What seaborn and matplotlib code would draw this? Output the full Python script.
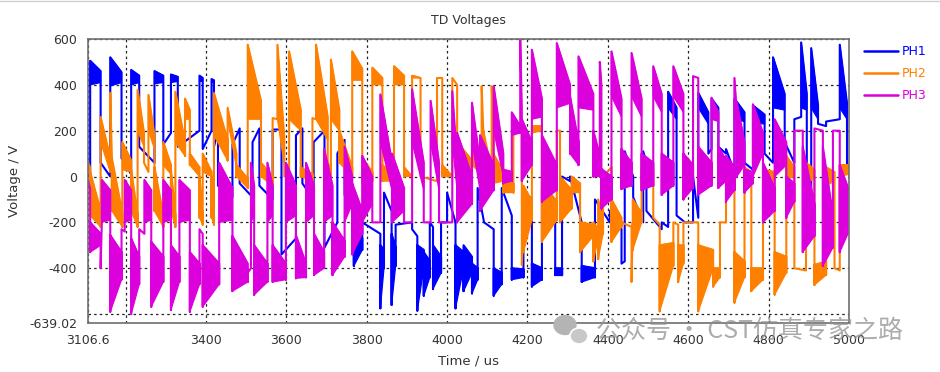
import pandas as pd
import matplotlib
matplotlib.use("Agg")
import matplotlib.pyplot as plt
from matplotlib.collections import PolyCollection
from matplotlib.patches import Ellipse
from matplotlib.lines import Line2D
import seaborn as sns

# each phase is a run of segments:
# start time, band top / bottom at the start, band top / bottom at the end (segment ends at next start)
t_end = 5000.0

ph1_t = [3106.6, 3112, 3138, 3162, 3190, 3214, 3234, 3272, 3294, 3313, 3330, 3384, 3392, 3414, 3420,
         3430, 3466, 3484, 3516, 3533, 3566, 3588, 3624, 3640, 3668, 3695, 3727,
         3745, 3768, 3789, 3834, 3843, 3862, 3872, 3913, 3926, 3942, 3957, 3965, 3985, 4000, 4021, 4041,
         4062, 4076, 4092, 4116, 4136, 4161, 4190, 4211, 4236, 4269, 4286, 4306, 4335,
         4368, 4405, 4434, 4442, 4463, 4488, 4496, 4534, 4550, 4571, 4592, 4612, 4625, 4650, 4658, 4675,
         4694, 4715, 4740, 4761, 4790, 4811, 4840, 4864, 4881, 4895, 4906, 4923, 4943, 4977, 4995]
ph1_hi0 = [10, 505, 60, 520, 80, 465, 130, 460, 140, 445, 130, 440, 120, 425, 130,
           -40, 140, -30, 150, -40, 205, -340, 180, -30, 150, -310, 100,
           -80, -230, -200, -300, -70, -250, -210, -230, -300, -330, -200, -300, -200, -70, -300, -300,
           -380, -50, -200, -400, -50, -400, -60, -380, -50, -400, 0, 0, -390,
           -100, -150, -380, 110, -90, 110, -150, -200, 370, -170, -200, 0, 365, 100, 340, 130,
           120, 340, 60, 310, 100, 520, 150, 250, 585, -180, 560, 230, 240, 575, 30]
ph1_lo0 = [10, 400, 60, 395, 80, 400, 130, 405, 140, 410, 130, 415, 120, 410, 130,
           -40, 140, -30, 150, -40, 205, -340, 180, -30, 150, -310, 100,
           -80, -390, -200, -575, -70, -560, -210, -230, -585, -520, -200, -490, -200, -70, -575, -500,
           -510, -50, -200, -520, -50, -450, -60, -480, -50, -430, 0, 0, -460,
           -100, -150, -380, 110, -90, 110, -150, -200, 300, -170, -200, 0, 300, 100, 280, 130,
           120, 250, 60, 230, 100, 300, 150, 250, 300, -180, 300, 230, 240, 300, 30]
ph1_hi1 = [0, 460, 0, 455, 10, 440, 60, 440, 190, 435, 200, 430, 200, 420, 200,
           -90, 210, -90, 210, -100, 205, -270, 210, -100, 200, -200, 160,
           -140, -270, -250, -320, -150, -310, -200, -260, -320, -370, -220, -350, -200, -200, -330, -350,
           -400, -200, -230, -420, -170, -405, -100, -400, -170, -400, -20, -200, -400,
           -200, -230, -370, 0, -200, 60, -230, -220, 300, -200, -200, -180, 280, 120, 300, 100,
           20, 280, 30, 270, 60, 360, 60, 260, 360, -180, 310, 220, 250, 320, 30]
ph1_lo1 = [0, 410, 0, 410, 10, 410, 60, 410, 190, 415, 200, 415, 200, 410, 200,
           -90, 210, -90, 210, -100, 205, -270, 210, -100, 200, -200, 160,
           -140, -320, -250, -400, -150, -390, -200, -260, -400, -440, -220, -420, -200, -200, -400, -420,
           -450, -200, -230, -470, -170, -440, -100, -450, -170, -430, -20, -200, -440,
           -200, -230, -370, 0, -200, 60, -230, -220, 250, -200, -200, -180, 230, 120, 260, 100,
           20, 240, 30, 230, 60, 290, 60, 260, 290, -180, 250, 220, 250, 250, 30]

ph2_t = [3106.6, 3112, 3138, 3162, 3166, 3192, 3214, 3230, 3246, 3257, 3272, 3294, 3313, 3324, 3348, 3360,
         3384, 3392, 3414, 3420, 3454, 3476, 3504, 3537, 3566, 3578, 3595, 3607, 3636, 3665, 3674, 3703,
         3711, 3732, 3764, 3789, 3814, 3839, 3868, 3893, 3913, 3934, 3975, 3988, 4013, 4025,
         4062, 4086, 4090, 4111, 4115, 4140, 4165, 4186, 4190, 4211, 4236, 4273, 4281, 4310, 4331, 4364,
         4376, 4388, 4409, 4434, 4459, 4462, 4484, 4513, 4529, 4563, 4575, 4588, 4625, 4662, 4679,
         4694, 4715, 4740, 4757, 4786, 4815, 4844, 4864, 4893, 4914, 4943, 4964, 4977]
ph2_hi0 = [60, 20, 260, 365, 80, 150, 30, 378, 60, 356, 40, 150, 30, 370, 340, 100,
           0, 100, 0, 364, 300, 50, 575, 60, 255, 575, 0, 546, 40, 255, 575, 60,
           510, 200, 546, 80, 475, 50, 481, 40, 440, 0, 430, 50, 430, 150,
           150, 394, 200, 394, 100, 0, 220, -386, -40, 220, -25, 200, 0, 0, -200, -200,
           -100, 0, -100, -200, -460, -100, 30, -180, -300, -200, -300, -200, -300, -400, -200,
           60, -330, 40, -400, 30, -330, 90, -400, 60, -386, 40, -400, 50]
ph2_lo0 = [30, -170, 150, 365, -150, 30, -150, 200, 60, 200, -150, 50, -150, 150, 250, 50,
           -180, 20, -180, 180, 250, 0, 250, 0, 255, 250, 0, 250, 0, 255, 250, 0,
           250, 60, 420, -30, 400, -20, 400, 0, 430, 0, 430, 0, 430, 50,
           50, 394, 0, 394, -30, -70, 180, -386, -330, 190, -285, 200, -200, -70, -330, -370,
           -360, 0, -285, -200, -460, -320, -60, -180, -588, -200, -460, -200, -588, -480, -200,
           0, -550, 40, -500, -20, -515, -10, -400, -30, -473, -40, -400, 0]
ph2_hi1 = [40, -150, 80, 80, -160, 70, -170, 190, 20, 180, -170, 50, -170, 150, 290, 40,
           -180, 20, -180, 160, 100, -10, 330, 0, 250, 170, 30, 290, 10, 250, 260, 30,
           290, 40, 470, 20, 430, 10, 440, 0, 430, -20, 430, 0, 400, 70,
           50, 200, 20, 200, 20, -30, 220, -200, -110, 220, -110, 200, -60, -30, -210, -230,
           -200, 40, -180, -220, -200, -160, 20, -210, -290, -210, -300, -200, -320, -400, -200,
           20, -370, 20, -400, 20, -350, 40, -410, 30, -370, 20, -410, 50]
ph2_lo1 = [10, -220, 20, 80, -220, 20, -220, 130, 20, 120, -220, 10, -220, 90, 250, 0,
           -210, 0, -210, 70, 40, -50, 250, -40, 250, 50, 30, 200, -20, 250, 160, 0,
           200, 0, 420, -20, 400, -20, 400, 0, 430, -20, 430, 0, 400, 30,
           10, 200, -10, 200, -20, -70, 200, -200, -190, 200, -190, 200, -140, -70, -260, -270,
           -250, 40, -220, -220, -200, -200, -20, -210, -390, -210, -380, -200, -400, -440, -200,
           -20, -440, 20, -450, -20, -420, 0, -410, -10, -430, -20, -410, 10]

ph3_t = [3106.6, 3112, 3138, 3141, 3162, 3190, 3198, 3214, 3234, 3247, 3264, 3294, 3313, 3334, 3360,
         3384, 3392, 3433, 3466, 3504, 3512, 3520, 3553, 3566, 3599, 3624, 3649, 3669, 3694, 3715,
         3745, 3764, 3789, 3814, 3834, 3863, 3893, 3913, 3942, 3959, 3980, 4013, 4025,
         4062, 4082, 4116, 4140, 4161, 4182, 4186, 4211, 4236, 4273, 4306, 4327, 4364,
         4380, 4384, 4409, 4434, 4459, 4484, 4513, 4534, 4563, 4588, 4612, 4625, 4658, 4675,
         4694, 4715, 4721, 4740, 4761, 4786, 4815, 4844, 4864, 4885, 4914, 4935, 4960, 4977]
ph3_hi0 = [-15, -200, -400, -15, -256, -230, -15, -270, -230, -15, -285, -15, -300, -15, -330,
           -230, -300, 60, -260, -420, 60, -300, 60, -300, 60, -256, 60, -250, 120, -200,
           130, -30, 90, -200, 358, 100, -200, 380, -200, 330, -200, 372, 190,
           322, 180, 394, 30, 280, 597, 250, 553, 180, 582, 350, 524, 200,
           500, 33, 546, 120, 539, 100, 481, 100, 481, 100, 438, 130, 344, 130,
           90, 430, 322, 30, 315, 60, 250, 0, 200, 130, 210, 130, 200, 50]
ph3_lo0 = [-15, -330, -400, -200, -590, -230, -200, -600, -230, -200, -568, -200, -582, -200, -590,
           -230, -568, -200, -500, -420, -200, -516, -200, -460, -200, -444, -200, -430, -200, -430,
           -200, -340, -200, -200, 150, -200, -200, 150, -200, 150, -200, 150, -200,
           150, -150, 200, -30, 180, 597, -20, 250, -110, 300, 100, 300, 0,
           400, -140, 350, -55, 350, -60, 350, -80, 350, -100, 438, -80, 250, -50,
           -110, 300, 0, -70, 0, -200, 0, -180, 200, -330, 210, -390, 200, -330]
ph3_hi1 = [-55, -250, -200, -60, -330, -240, -60, -350, -250, -60, -350, -60, -350, -60, -380,
           -250, -380, -50, -380, -400, -40, -380, -40, -380, -40, -380, -40, -330, -40, -280,
           0, -150, 0, -200, 60, -50, -200, 60, -200, 60, -200, 60, 0,
           60, 50, 100, 20, 220, 300, 150, 340, 50, 400, 150, 360, 90,
           400, 0, 340, 60, 340, 60, 360, 60, 360, 50, 430, 60, 280, 70,
           40, 270, 150, 20, 190, -50, 150, -30, 200, -120, 200, -170, 200, -60]
ph3_lo1 = [-55, -300, -200, -190, -450, -240, -190, -470, -250, -190, -460, -190, -460, -190, -470,
           -250, -470, -190, -460, -400, -170, -460, -170, -450, -170, -440, -170, -400, -170, -350,
           -120, -250, -120, -200, -60, -150, -200, -60, -200, -60, -200, -60, -120,
           -60, -60, 0, -20, 190, 300, 50, 260, -60, 320, 50, 290, 0,
           400, -100, 260, -40, 260, -40, 280, -40, 280, -50, 430, -40, 240, -20,
           -60, 230, 50, -30, 100, -150, 50, -110, 200, -260, 200, -310, 200, -240]

phase_names = ["PH1", "PH2", "PH3"]
phase_data = [(ph1_t, ph1_hi0, ph1_lo0, ph1_hi1, ph1_lo1),
              (ph2_t, ph2_hi0, ph2_lo0, ph2_hi1, ph2_lo1),
              (ph3_t, ph3_hi0, ph3_lo0, ph3_hi1, ph3_lo1)]
colors = {"PH1": "#0000ff", "PH2": "#ff8000", "PH3": "#dc00dc"}

x_ticks = [3106.6, 3200, 3400, 3600, 3800, 4000, 4200, 4400, 4600, 4800, 5000]
x_labels = ["3106.6", "", "3400", "3600", "3800", "4000", "4200", "4400", "4600", "4800", "5000"]
y_ticks = [-639.02, -600, -400, -200, 0, 200, 400, 600]
y_labels = ["-639.02", "", "-400", "-200", "0", "200", "400", "600"]

# trace outline and ringing bands for each phase
rows = []
bands = {}
for name, (ts, h0, l0, h1, l1) in zip(phase_names, phase_data):
    ends = list(ts[1:]) + [t_end]
    polys = []
    for t0, t1, a0, b0, a1, b1 in zip(ts, ends, h0, l0, h1, l1):
        rows += [(name, t0, b0), (name, t0, a0), (name, t1, a1), (name, t1, b1)]
        if a0 != b0 or a1 != b1:
            polys.append([(t0, a0), (t1, a1), (t1, b1), (t0, b0)])
    bands[name] = polys
df = pd.DataFrame(rows, columns=["phase", "t", "v"])

sns.set_style("white")
plt.rcParams["font.family"] = ["DejaVu Sans"]

fig = plt.figure(figsize=(9.4, 3.72), dpi=100)
ax = fig.add_axes([88 / 940, 49 / 372, 761 / 940, 284 / 372])

sns.lineplot(data=df, x="t", y="v", hue="phase", palette=colors, sort=False,
             estimator=None, lw=1.5, ax=ax, legend=False)
for line in ax.lines:
    for i, name in enumerate(phase_names):
        if matplotlib.colors.to_hex(line.get_color()) == colors[name]:
            line.set_zorder(3 + i)
for i, name in enumerate(phase_names):
    pc = PolyCollection(bands[name], facecolors=colors[name], edgecolors=colors[name],
                        linewidths=0.9, zorder=3 + i)
    ax.add_collection(pc)

ax.set_xlim(3106.6, 5000)
ax.set_ylim(-639.02, 600)
ax.set_xticks(x_ticks)
ax.set_xticklabels(x_labels)
ax.set_yticks(y_ticks)
ax.set_yticklabels(y_labels)
ax.grid(True, color="#222222", linestyle=(0, (2, 2.5)), linewidth=0.9)
for gl in ax.get_xgridlines() + ax.get_ygridlines():
    gl.set_zorder(10)
for sp in ax.spines.values():
    sp.set_color("#707070")
    sp.set_linewidth(1.2)
    sp.set_zorder(11)
ax.tick_params(direction="out", length=4, width=1, color="#707070", labelsize=9,
               labelcolor="#333333", pad=4)

ax.set_title("TD Voltages", fontsize=9, color="#333333", pad=11)
ax.set_xlabel("Time / us", fontsize=9.5, color="#333333", labelpad=5)
ax.set_ylabel("Voltage / V", fontsize=9.5, color="#333333", labelpad=6)

handles = [Line2D([], [], color=colors[n], lw=1.8) for n in phase_names]
leg = fig.legend(handles, phase_names, loc="upper left", bbox_to_anchor=(864 / 940, 1 - 45 / 372),
                 frameon=False, fontsize=9, handlelength=2.7, handletextpad=0.3,
                 labelspacing=0.72, borderpad=0, borderaxespad=0)
for txt, n in zip(leg.get_texts(), phase_names):
    txt.set_color(colors[n])

# watermark
fig.add_artist(Ellipse((565 / 940, 1 - 325 / 372), 22 / 940, 19 / 372, color="#b4b4b4", zorder=20))
fig.add_artist(Ellipse((579 / 940, 1 - 336 / 372), 18 / 940, 16 / 372, facecolor="#c8c8c8",
                       edgecolor="white", lw=1.2, zorder=21))
fig.text(750 / 940, 1 - 331 / 372, "公众号 · CST仿真专家之路", fontsize=18, color="#909090", alpha=0.75,
         ha="center", va="center", family=["Noto Sans CJK SC", "DejaVu Sans"], zorder=22)
fig.add_artist(Line2D([0, 1], [0.997, 0.997], color="#d0d0d0", lw=1))

fig.savefig("out.png", dpi=100)
